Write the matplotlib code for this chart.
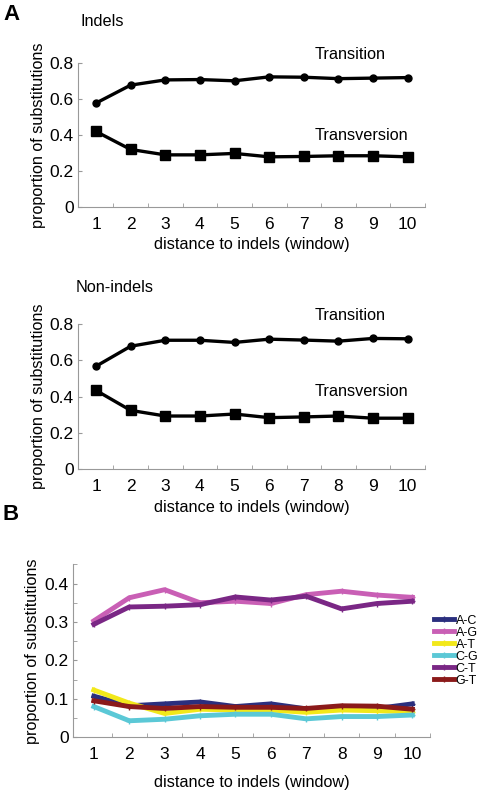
import numpy as np
import matplotlib.pyplot as plt

plt.rcParams['font.family'] = ['Liberation Sans', 'DejaVu Sans']

windows = [1, 2, 3, 4, 5, 6, 7, 8, 9, 10]

# panel A - indels
indel_ts = [0.578, 0.678, 0.707, 0.709, 0.702, 0.724, 0.722, 0.714, 0.717, 0.720]
indel_tv = [0.420, 0.320, 0.290, 0.290, 0.298, 0.279, 0.281, 0.285, 0.285, 0.279]
# panel A - non-indels
nonindel_ts = [0.567, 0.677, 0.710, 0.710, 0.698, 0.716, 0.711, 0.705, 0.720, 0.718]
nonindel_tv = [0.434, 0.324, 0.293, 0.293, 0.304, 0.284, 0.288, 0.293, 0.281, 0.281]

# panel B - substitution types
sub_names = ['A-C', 'A-G', 'A-T', 'C-G', 'C-T', 'G-T']
sub_colors = ['#2b2f7e', '#c95fb5', '#f2e81a', '#5bc8d6', '#7a2785', '#8b1a1a']
a_c = [0.107, 0.082, 0.087, 0.092, 0.080, 0.087, 0.074, 0.075, 0.075, 0.087]
a_g = [0.303, 0.363, 0.384, 0.350, 0.354, 0.348, 0.371, 0.380, 0.370, 0.364]
a_t = [0.123, 0.089, 0.062, 0.073, 0.071, 0.071, 0.065, 0.071, 0.069, 0.067]
c_g = [0.080, 0.043, 0.047, 0.056, 0.060, 0.060, 0.048, 0.054, 0.054, 0.058]
c_t = [0.294, 0.339, 0.341, 0.345, 0.365, 0.357, 0.367, 0.334, 0.348, 0.354]
g_t = [0.095, 0.080, 0.075, 0.080, 0.078, 0.078, 0.075, 0.082, 0.081, 0.073]
sub_values = [a_c, a_g, a_t, c_g, c_t, g_t]

fig = plt.figure(figsize=(4.8, 7.9), dpi=100)

FS_LABEL = 11.7
FS_TICK = 12.5


def style_axes(ax, xmin, xmax, xpad):
    ax.spines['top'].set_visible(False)
    ax.spines['right'].set_visible(False)
    for s in ['left', 'bottom']:
        ax.spines[s].set_color('#999999')
        ax.spines[s].set_linewidth(0.8)
    ax.set_xlim(xmin, xmax)
    ax.set_xticks(windows)
    ax.set_xticks(np.arange(1.5, 10.6, 1.0), minor=True)
    ax.tick_params(axis='x', which='major', length=0, labelsize=FS_TICK, pad=7)
    ax.tick_params(axis='x', which='minor', length=3, direction='in', color='#999999')
    ax.tick_params(axis='y', which='both', length=3, direction='in', color='#999999',
                   labelsize=FS_TICK, pad=3)
    ax.set_xlabel('distance to indels (window)', fontsize=FS_LABEL, labelpad=xpad)
    ax.set_ylabel('proportion of substitutions', fontsize=FS_LABEL, labelpad=3)


def panel_a(ax, ts, tv, ts_y, tv_y):
    ax.plot(windows, ts, color='black', lw=2.4, marker='o', ms=5, clip_on=False)
    ax.plot(windows, tv, color='black', lw=2.4, marker='s', ms=7.5, clip_on=False)
    style_axes(ax, 0.48, 10.5, 4)
    ax.set_ylim(0, 0.8)
    ax.set_yticks([0, 0.2, 0.4, 0.6, 0.8])
    ax.set_yticklabels(['0', '0.2', '0.4', '0.6', '0.8'])
    ax.text(8.33, ts_y, 'Transition', fontsize=FS_LABEL, ha='center', va='center')
    ax.text(8.67, tv_y, 'Transversion', fontsize=FS_LABEL, ha='center', va='center')


ax1 = fig.add_axes([0.1625, 0.738, 0.723, 0.182])
panel_a(ax1, indel_ts, indel_tv, 0.846, 0.40)
fig.text(80 / 480, 1 - 22 / 790, 'Indels', fontsize=FS_LABEL, va='center')

ax2 = fig.add_axes([0.1625, 0.406, 0.723, 0.184])
panel_a(ax2, nonindel_ts, nonindel_tv, 0.848, 0.426)
fig.text(76 / 480, 1 - 288 / 790, 'Non-indels', fontsize=FS_LABEL, va='center')

fig.text(3 / 480, 1 - 14 / 790, 'A', fontsize=16, fontweight='bold', va='center')
fig.text(3 / 480, 1 - 515 / 790, 'B', fontsize=16, fontweight='bold', va='center')

# panel B
ax3 = fig.add_axes([0.152, 0.0667, 0.744, 0.219])
for name, vals, col in zip(sub_names, sub_values, sub_colors):
    ax3.plot(windows, vals, color=col, lw=3.5, marker='+', ms=4, mew=1, label=name)
style_axes(ax3, 0.41, 10.33, 9)
ax3.set_ylim(0, 0.45)
ax3.set_yticks([0, 0.1, 0.2, 0.3, 0.4])
ax3.set_yticklabels(['0', '0.1', '0.2', '0.3', '0.4'])
ax3.set_yticks(np.arange(0.05, 0.46, 0.1), minor=True)
ax3.legend(loc='center left', bbox_to_anchor=(1.01, 0.5), frameon=False, fontsize=9,
           handlelength=1.6, handletextpad=0.15, labelspacing=0.0, borderaxespad=0,
           borderpad=0)

fig.savefig('out.png', dpi=100)
